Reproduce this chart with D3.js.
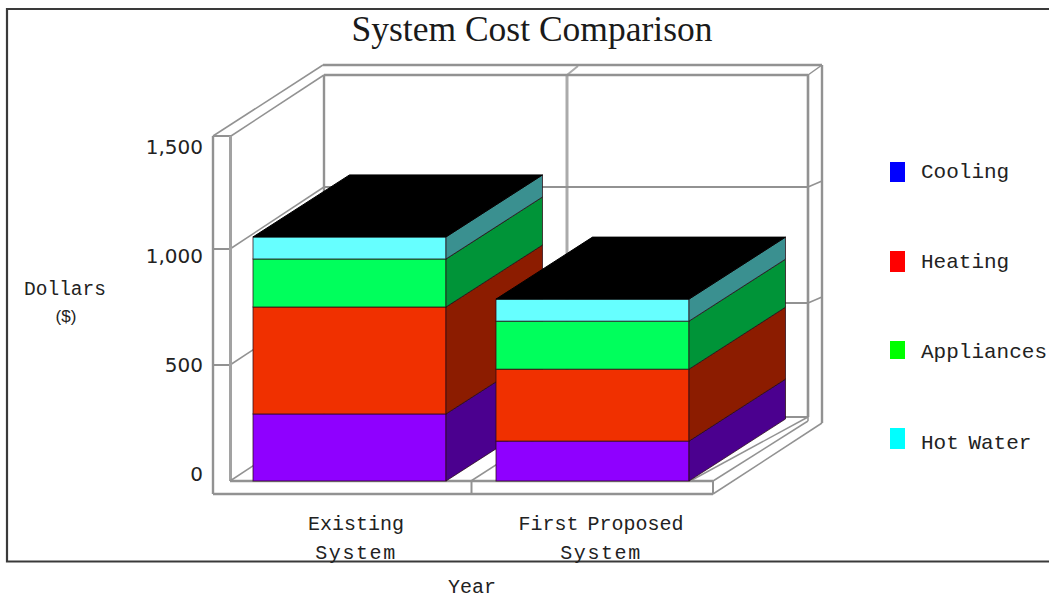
<!DOCTYPE html>
<html>
<head>
<meta charset="utf-8">
<script src="https://cdn.jsdelivr.net/npm/d3@7"></script>
<style>
  html, body { margin: 0; padding: 0; background: #fff; }
  svg { display: block; }
</style>
</head>
<body>
<svg id="chart" width="1049" height="598"></svg>
<script>
// Annual cost per system, stacked bottom to top
const categories = [["Existing", "System"], ["First Proposed", "System"]];
const cooling    = [289, 172];
const heating    = [461, 310];
const appliances = [207, 207];
const hotWater   = [ 95,  95];

const yTicks = [0, 500, 1000, 1500];
const legendNames = ["Cooling", "Heating", "Appliances", "Hot Water"];
const legendColors = ["#0000ff", "#ff0000", "#00ff00", "#00ffff"];

const frontColors = ["#8f00ff", "#f03000", "#00ff5c", "#66ffff"];
const sideColors  = ["#4b008f", "#8c1c00", "#009438", "#3a9090"];
const topColor = "#000000";

const MONO = "'Liberation Mono', monospace";
const SANS = "'DejaVu Sans', sans-serif";
const NARROW = "'Liberation Sans', sans-serif";
const SERIF = "'Liberation Serif', serif";
const WALL = "#929292";
const depthX = 96.5, depthY = -62;

const svg = d3.select("#chart");

const y = d3.scaleLinear().domain([0, 1500]).range([481, 133]);
const yLabel = d3.scaleLinear().domain([0, 1500]).range([481, 154]);
const x = d3.scaleBand()
  .domain(categories.map((_, i) => i))
  .range([253, 689])
  .paddingInner(0.2058)
  .paddingOuter(0);

const path = d3.line();
const segment = (g, pts, width = 2, color = WALL) =>
  g.append("path").attr("d", path(pts)).attr("fill", "none")
    .attr("stroke", color).attr("stroke-width", width);

// Page frame, open on the right where it runs off the edge
svg.append("path")
  .attr("d", "M1049,9H7V561.5H1049")
  .attr("fill", "none").attr("stroke", "#3a3a3a").attr("stroke-width", 2.2);

// Three-sided chart box
const box = svg.append("g");
const backDX = 94, backDY = -62;

// back wall verticals and top rails
segment(box, [[324, 75], [324, 419]], 2.4);
segment(box, [[567, 75], [567, 419]], 3, "#ababab");
segment(box, [[567, 75], [578, 66]], 2, "#ababab");
segment(box, [[323, 65], [822, 65]], 2.6);
segment(box, [[324, 75], [808, 75]], 2.6);
segment(box, [[213, 136], [323, 65]], 1.5);
segment(box, [[231, 136], [324, 75]], 1.5);
segment(box, [[213, 136], [231, 136]], 2);

// gridlines carried round the left wall, back wall and right wall
yTicks.filter(t => t === 500 || t === 1000).forEach(t => {
  const yy = y(t);
  segment(box, [[213, yy], [230, yy]], 2);
  segment(box, [[230, yy], [230 + backDX, yy + backDY]], 1.5);
  segment(box, [[324, yy + backDY], [808, yy + backDY]], 2);
  segment(box, [[808, yy + backDY], [822, yy + backDY - 6]], 1.5);
});

// left wall
segment(box, [[213, 136], [213, 494]], 2.4);
segment(box, [[230.5, 136], [230.5, 481]], 3, "#a2a2a2");

// right wall
segment(box, [[808, 75], [808, 417]], 2.6);
segment(box, [[822, 65], [822, 423]], 2.4);
segment(box, [[808, 75], [822, 65]], 1.5);

// floor
segment(box, [[324, 417], [808, 417]], 2);
segment(box, [[230, 481], [324, 419]], 1.5);
segment(box, [[471, 481], [567, 419]], 1.5);
segment(box, [[692, 480], [808, 417]], 1.5);
segment(box, [[713, 481], [808, 421]], 1.5);
segment(box, [[713, 494], [822, 423]], 1.5);
segment(box, [[808, 417], [808, 421]], 1.5);
segment(box, [[230, 481], [713, 481]], 2.4);
segment(box, [[213, 494], [713, 494]], 2.4);
segment(box, [[713, 481], [713, 494]], 2);
segment(box, [[471.5, 481], [471.5, 494]], 2);

// Stacked blocks: far sides first, so the nearer block overlaps its neighbour
const seriesValues = [cooling, heating, appliances, hotWater];
const bars = svg.append("g");
const edge = "rgba(40,10,20,0.75)";

categories.forEach((_, c) => {
  const left = x(c), right = left + x.bandwidth();
  let total = 0;
  seriesValues.forEach((vals, s) => {
    const y0 = y(total), y1 = y(total + vals[c]);
    total += vals[c];
    bars.append("rect")
      .attr("x", left).attr("y", y1)
      .attr("width", right - left).attr("height", y0 - y1)
      .attr("fill", frontColors[s]).attr("stroke", edge).attr("stroke-width", 1);
    bars.append("path")
      .attr("d", path([[right, y0], [right + depthX, y0 + depthY], [right + depthX, y1 + depthY], [right, y1]]) + "Z")
      .attr("fill", sideColors[s]).attr("stroke", edge).attr("stroke-width", 1);
  });
  const yt = y(total);
  bars.append("path")
    .attr("d", path([[left, yt], [right, yt], [right + depthX, yt + depthY], [left + depthX, yt + depthY]]) + "Z")
    .attr("fill", topColor).attr("stroke", topColor).attr("stroke-width", 1);
});

// Title
svg.append("text")
  .attr("x", 532).attr("y", 41)
  .attr("text-anchor", "middle")
  .attr("font-family", SERIF).attr("font-size", 35.5).attr("fill", "#1a1a1a")
  .text("System Cost Comparison");

// Value labels
svg.append("g").selectAll("text").data(yTicks).join("text")
  .attr("x", 203).attr("y", d => yLabel(d))
  .attr("text-anchor", "end")
  .attr("font-family", SANS).attr("font-size", 20).attr("fill", "#222")
  .text(d3.format(","));

// Axis titles
const monoText = (tx, ty, str, size = 20, anchor = "middle") =>
  svg.append("text").attr("x", tx).attr("y", ty)
    .attr("text-anchor", anchor)
    .attr("font-family", MONO).attr("font-size", size).attr("fill", "#222")
    .attr("word-spacing", -3)
    .text(str);

monoText(65, 295, "Dollars", 19.5);
svg.append("text").attr("x", 66).attr("y", 322).attr("text-anchor", "middle")
  .attr("font-family", NARROW).attr("font-size", 17).attr("fill", "#222").text("($)");
monoText(472, 593, "Year");

// Category labels, two lines each; the second line is set a little wider
const labelCenters = [356, 601];
categories.forEach((lines, c) => {
  lines.forEach((line, i) => {
    monoText(labelCenters[c], 530 + i * 28.5, line)
      .attr("letter-spacing", i === 1 ? 1.6 : 0);
  });
});

// Legend
const legendTop = [162, 251, 341, 428];
const legendH = [20, 21, 18, 21];
const legendBase = [178, 268, 358, 449];
legendNames.forEach((name, i) => {
  svg.append("rect")
    .attr("x", 890).attr("y", legendTop[i])
    .attr("width", 15).attr("height", legendH[i])
    .attr("fill", legendColors[i]);
  monoText(921, legendBase[i], name, 21, "start");
});
</script>
</body>
</html>
